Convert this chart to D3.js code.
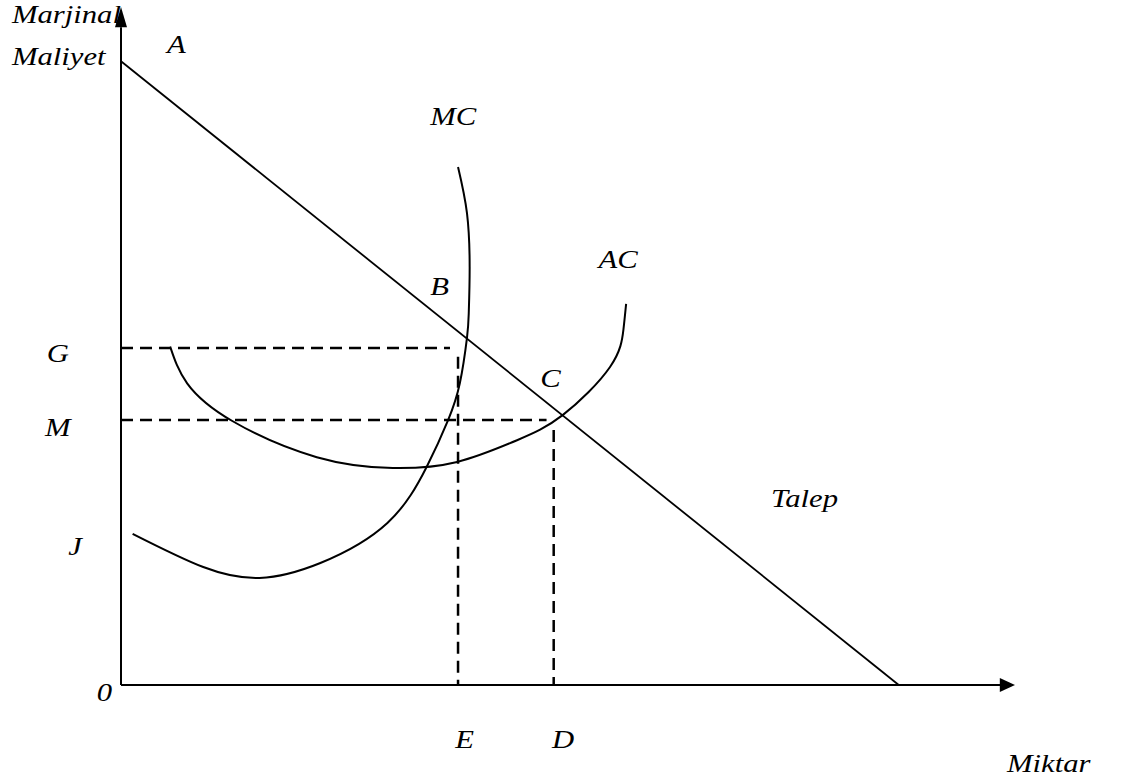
<!DOCTYPE html>
<html>
<head>
<meta charset="utf-8">
<script src="https://cdn.jsdelivr.net/npm/d3@7"></script>
<style>
  body { margin: 0; background: #fff; }
  svg { display: block; }
  text { font-family: "Liberation Serif", "Times New Roman", serif; font-style: italic; font-size: 26px; fill: #000; }
</style>
</head>
<body>
<svg id="chart" width="1126" height="781"></svg>
<script>
// demand line (Talep) end points: [quantity, cost]
const demand = [[0, 92], [87, 0]];

// marginal cost curve, read from top to its left end
const mcCurve = [
  [37.7, 76.4], [38.7, 69.6], [39.0, 61.7], [38.9, 54.9], [38.7, 51.2],
  [37.9, 44.5], [36.6, 39.1], [34.2, 32.2], [29.8, 23.9], [22.3, 18.0],
  [15.5, 15.8], [9.2, 17.4], [1.3, 22.3]
];

// average cost curve, left to right
const acCurve = [
  [5.5, 49.9], [7.4, 44.5], [12.5, 38.9], [21.9, 33.6], [30.4, 32.0],
  [37.6, 32.9], [44.3, 36.1], [49.4, 39.8], [54.7, 46.9], [56.2, 52.4],
  [56.5, 56.2]
];

// dashed guide lines
const guidesH = [
  { level: 49.7, to: 36.8 }, // G
  { level: 39.1, to: 47.6 }  // M
];
const guidesV = [
  { at: 37.7, from: 48.4 }, // E
  { at: 48.4, from: 37.6 }  // D
];

// labels and the data point each one is anchored on
const labelText = ["Marjinal", "Maliyet", "A", "MC", "AC", "B", "C", "Talep", "G", "M", "J", "0", "E", "D", "Miktar"];
const labelX = [-12.2, -12.2, 5.15, 34.6, 53.4, 34.6, 46.9, 72.7, -8.3, -8.5, -5.9, -2.7, 37.4, 48.2, 99.1];
const labelY = [97.6, 91.4, 93.2, 82.6, 61.5, 57.5, 44.0, 26.3, 47.6, 36.7, 19.2, -2.4, -9.3, -9.3, -12.8];

const svg = d3.select("#chart");

const x = d3.scaleLinear().domain([0, 100]).range([121, 1015]);
const y = d3.scaleLinear().domain([0, 100]).range([685, 7]);

const g = svg.append("g");

// axes with arrow heads
g.append("line")
  .attr("x1", x(0)).attr("y1", y(0))
  .attr("x2", x(0)).attr("y2", y(97))
  .attr("stroke", "#000").attr("stroke-width", 2);
g.append("line")
  .attr("x1", x(0)).attr("y1", y(0))
  .attr("x2", x(98.5)).attr("y2", y(0))
  .attr("stroke", "#000").attr("stroke-width", 2);

g.append("path")
  .attr("d", `M${x(0)},${y(100)} L${x(0) - 6},${y(97)} L${x(0) + 6},${y(97)} Z`)
  .attr("fill", "#000");
g.append("path")
  .attr("d", `M${x(100)},${y(0)} L${x(98.3)},${y(0) - 7} L${x(98.3)},${y(0) + 7} Z`)
  .attr("fill", "#000");

const line = d3.line().x((d) => x(d[0])).y((d) => y(d[1]));
const curve = d3.line().x((d) => x(d[0])).y((d) => y(d[1])).curve(d3.curveNatural);

// dashed guides
g.selectAll(".guide-h")
  .data(guidesH)
  .enter()
  .append("line")
  .attr("class", "guide-h")
  .attr("x1", x(0)).attr("x2", (d) => x(d.to))
  .attr("y1", (d) => y(d.level)).attr("y2", (d) => y(d.level))
  .attr("stroke", "#000").attr("stroke-width", 2.5)
  .attr("stroke-dasharray", "12,7");

g.selectAll(".guide-v")
  .data(guidesV)
  .enter()
  .append("line")
  .attr("class", "guide-v")
  .attr("x1", (d) => x(d.at)).attr("x2", (d) => x(d.at))
  .attr("y1", (d) => y(d.from)).attr("y2", y(0))
  .attr("stroke", "#000").attr("stroke-width", 2.5)
  .attr("stroke-dasharray", "12,7");

// demand
g.append("path")
  .attr("d", line(demand))
  .attr("fill", "none").attr("stroke", "#000").attr("stroke-width", 1.8);

// cost curves
g.append("path")
  .attr("d", curve(mcCurve))
  .attr("fill", "none").attr("stroke", "#000").attr("stroke-width", 2);
g.append("path")
  .attr("d", curve(acCurve))
  .attr("fill", "none").attr("stroke", "#000").attr("stroke-width", 2);

// labels, slightly stretched like the original drawing
g.selectAll(".lbl")
  .data(labelText)
  .enter()
  .append("text")
  .attr("class", "lbl")
  .attr("transform", (d, i) => `translate(${x(labelX[i])},${y(labelY[i])}) scale(1.18,1)`)
  .text((d) => d);
</script>
</body>
</html>
